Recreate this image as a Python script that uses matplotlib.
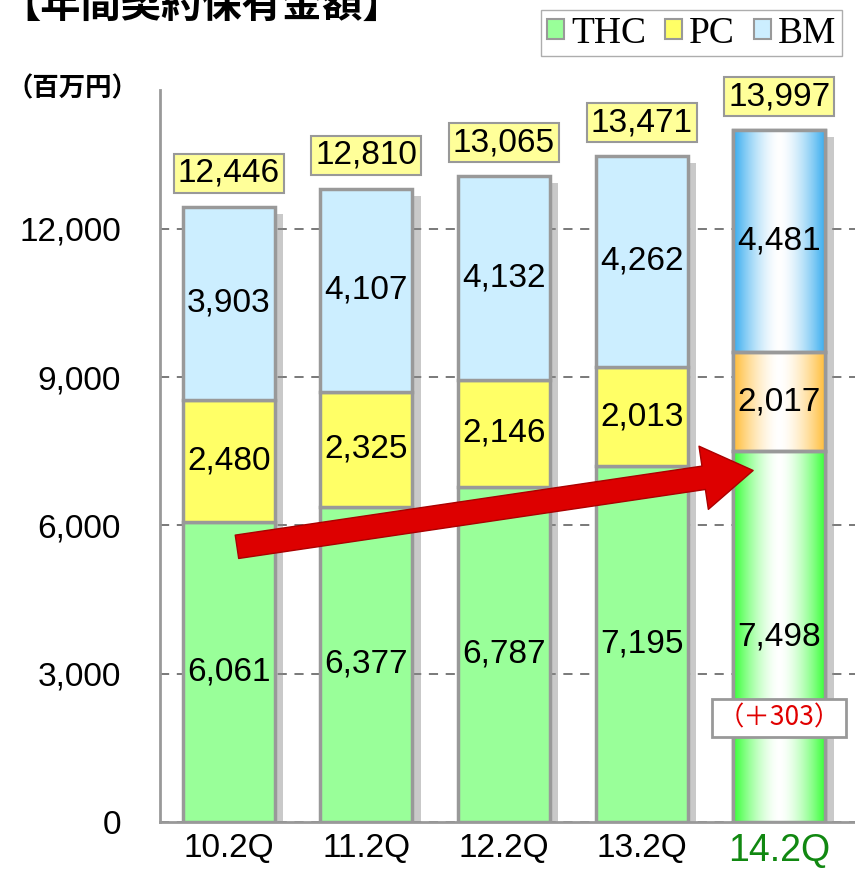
import numpy as np
import matplotlib
matplotlib.use('Agg')
import matplotlib.pyplot as plt
import matplotlib.patheffects as pe
from matplotlib.patches import Patch
from matplotlib import font_manager

# data
periods = ['10.2Q', '11.2Q', '12.2Q', '13.2Q', '14.2Q']
thc = [6061, 6377, 6787, 7195, 7498]
pc = [2480, 2325, 2146, 2013, 2017]
bm = [3903, 4107, 4132, 4262, 4481]
totals = [12446, 12810, 13065, 13471, 13997]
thc_diff = '（＋303）'
yticks = [0, 3000, 6000, 9000, 12000]

names = {f.name for f in font_manager.fontManager.ttflist}
NARROW = ['Liberation Sans Narrow'] if 'Liberation Sans Narrow' in names else ['Liberation Sans']
NUM_FONT = NARROW + ['Noto Sans CJK JP', 'DejaVu Sans']
JP_FONT = ['Noto Sans CJK JP', 'DejaVu Sans']

c_thc, c_pc, c_bm = '#99FF99', '#FFFF66', '#CCEEFF'
g_thc, g_pc, g_bm = '#33FF33', '#FFBB33', '#33AAEE'
EDGE = '#999999'

fig = plt.figure(figsize=(8.55, 8.69), dpi=100)
ax = fig.add_axes([0.187, 0.054, 0.813, 0.842])

x = np.arange(len(periods))
w = 0.67

# drop shadow behind the whole stack
stack = np.array(thc) + np.array(pc) + np.array(bm)
sh = ax.bar(x, stack, w, color='white', edgecolor='none', zorder=2)
for b in sh:
    b.set_path_effects([pe.SimplePatchShadow(offset=(6, -5), shadow_rgbFace='#888888', alpha=0.45)])

bottom = np.zeros(len(periods))
for vals, col, gcol in [(thc, c_thc, g_thc), (pc, c_pc, g_pc), (bm, c_bm, g_bm)]:
    vals = np.array(vals, dtype=float)
    cols = [col] * (len(periods) - 1) + ['white']
    bars = ax.bar(x, vals, w, bottom=bottom, color=cols, edgecolor=EDGE, linewidth=2.5, zorder=3)
    # gradient on latest bar
    i = len(periods) - 1
    t = np.abs(np.linspace(-1, 1, 200)) ** 1.6
    rgb = np.array(matplotlib.colors.to_rgb(gcol))
    grad = (1 - t)[:, None] * np.ones(3) + t[:, None] * rgb
    im = ax.imshow(grad[None, :, :], extent=(x[i] - w / 2, x[i] + w / 2, bottom[i], bottom[i] + vals[i]),
                   aspect='auto', zorder=3.5, interpolation='bilinear')
    im.set_clip_path(bars[i])
    ax.bar(x[i], vals[i], w, bottom=bottom[i], facecolor='none', edgecolor=EDGE, linewidth=2.5, zorder=4)
    for xi, v, b0 in zip(x, vals, bottom):
        ax.text(xi, b0 + v / 2, f'{int(v):,}', ha='center', va='center', fontsize=24,
                family=NUM_FONT, zorder=6)
    bottom += vals

for xi, tot in zip(x, totals):
    ax.annotate(f'{tot:,}', (xi, tot), xytext=(0, 24), textcoords='offset points',
                ha='center', va='center', fontsize=24, family=NUM_FONT, zorder=6,
                bbox=dict(boxstyle='square,pad=0.12', fc='#FFFF99', ec=EDGE, lw=1.5))

# difference box on latest THC
ax.text(x[-1], 2100, thc_diff, ha='center', va='center', fontsize=19, color='#E00000',
        family=JP_FONT, zorder=7,
        bbox=dict(boxstyle='square,pad=0.2', fc='white', ec=EDGE, lw=2))

# trend arrow
ax.annotate('', xy=(3.83, 7120), xytext=(0.04, 5560), zorder=8,
            arrowprops=dict(arrowstyle='simple,head_length=1.8,head_width=2.3,tail_width=0.85',
                            mutation_scale=20, fc='#DD0000', ec='#AA0000', lw=1))

ax.set_xlim(-0.5, 4.55)
ax.set_ylim(0, 14800)
ax.set_yticks(yticks)
ax.set_yticklabels([f'{v:,}' for v in yticks], family=NUM_FONT, fontsize=24)
ax.set_xticks(x)
ax.set_xticklabels(periods, family=NUM_FONT, fontsize=24)
lab = ax.get_xticklabels()[-1]
lab.set_color('#118811')
lab.set_fontsize(27)
ax.tick_params(length=0, pad=8)
ax.tick_params(axis='y', pad=28)
for s in ['top', 'right']:
    ax.spines[s].set_visible(False)
for s in ['left', 'bottom']:
    ax.spines[s].set_color(EDGE)
    ax.spines[s].set_linewidth(2)
ax.yaxis.grid(True, color='#555555', linestyle=(0, (6, 5)), linewidth=1.1, zorder=0)
ax.set_axisbelow(True)

handles = [Patch(fc=c, ec=EDGE, lw=1.5) for c in (c_thc, c_pc, c_bm)]
fig.legend(handles, ['THC', 'PC', 'BM'], loc='upper right', bbox_to_anchor=(0.985, 0.988),
           ncol=3, frameon=True, fancybox=False, edgecolor=EDGE,
           prop={'family': 'Liberation Serif', 'size': 27}, handlelength=0.45, handleheight=0.45,
           handletextpad=0.2, columnspacing=0.5, borderpad=0.15, borderaxespad=0)

fig.text(0.0, 0.994, '【年間契約保有金額】', ha='left', va='center', fontsize=29,
         fontweight='bold', family=JP_FONT)
fig.text(0.008, 0.898, '（百万円）', ha='left', va='center', fontsize=19,
         fontweight='bold', family=JP_FONT)

fig.savefig('out.png', dpi=100)
